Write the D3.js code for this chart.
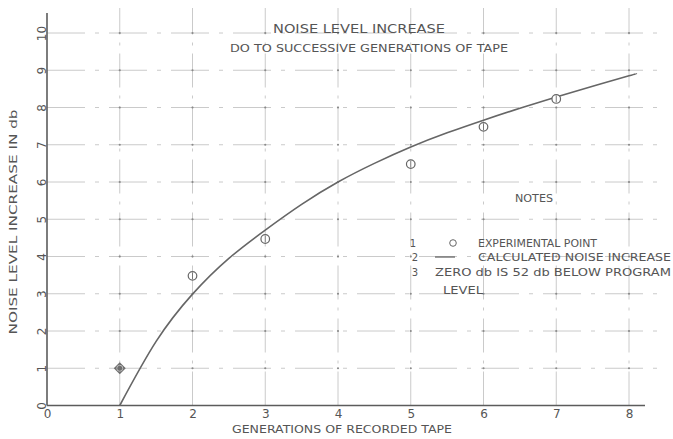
<!DOCTYPE html>
<html>
<head>
<meta charset="utf-8">
<script src="https://cdn.jsdelivr.net/npm/d3@7"></script>
<style>
  body { margin: 0; background: #fff; }
  svg { display: block; }
  text { font-family: "DejaVu Sans", "Liberation Sans", sans-serif; fill: #555; }
</style>
</head>
<body>
<svg id="chart" width="673" height="439"></svg>
<script>
// ---- data ----
const xTicks = [0, 1, 2, 3, 4, 5, 6, 7, 8];
const yTicks = [0, 1, 2, 3, 4, 5, 6, 7, 8, 9, 10];
const expGenerations = [1, 2, 3, 5, 6, 7];
const expNoise = [1.0, 3.48, 4.47, 6.48, 7.48, 8.23];
const calcGenerations = [1, 1.5, 2, 2.5, 3, 3.5, 4, 4.5, 5, 5.5, 6, 6.5, 7, 7.5, 8, 8.1];
const calcNoise = [0, 1.72, 2.99, 3.95, 4.71, 5.4, 6.0, 6.5, 6.94, 7.32, 7.66, 7.98, 8.28, 8.57, 8.85, 8.9];
const titleText = "NOISE LEVEL INCREASE";
const subtitleText = "DO TO SUCCESSIVE GENERATIONS OF TAPE";
const xTitle = "GENERATIONS OF RECORDED TAPE";
const yTitle = "NOISE LEVEL INCREASE IN db";
const notesTitle = "NOTES";
const notes = ["EXPERIMENTAL POINT", "CALCULATED NOISE INCREASE", "ZERO db IS 52 db BELOW PROGRAM", "LEVEL"];

const svg = d3.select("#chart");
const x = d3.scaleLinear().domain([0, 8]).range([47, 629]);
const y = d3.scaleLinear().domain([0, 10]).range([405.5, 33]);
const ink = "#5c5c5c";

// ---- grid ----
const grid = svg.append("g");
grid.selectAll("line.v").data(xTicks.filter(d => d > 0)).join("line")
  .attr("x1", d => x(d)).attr("x2", d => x(d))
  .attr("y1", y(0)).attr("y2", 8)
  .attr("stroke", "#cacaca").attr("stroke-width", 1)
  .attr("stroke-dasharray", "34,8,3,8");
grid.selectAll("line.h").data(yTicks.filter(d => d > 0)).join("line")
  .attr("x1", x(0)).attr("x2", 660)
  .attr("y1", d => y(d)).attr("y2", d => y(d))
  .attr("stroke", "#cacaca").attr("stroke-width", 1)
  .attr("stroke-dasharray", "38,10,4,10");
// intersection marks
const inter = [];
xTicks.filter(d => d > 0).forEach(a => yTicks.filter(d => d > 0).forEach(b => inter.push([a, b])));
grid.selectAll("circle.i").data(inter).join("circle")
  .attr("cx", d => x(d[0])).attr("cy", d => y(d[1]))
  .attr("r", 1.1).attr("fill", "#8a8a8a");

// ---- axes lines ----
svg.append("line").attr("x1", x(0)).attr("x2", x(0)).attr("y1", y(0)).attr("y2", 13)
  .attr("stroke", ink).attr("stroke-width", 1.6);
svg.append("line").attr("x1", x(0)).attr("x2", 645).attr("y1", y(0)).attr("y2", y(0))
  .attr("stroke", ink).attr("stroke-width", 1.6);

// ---- x axis labels ----
const xa = svg.append("g").attr("transform", `translate(0,${y(0)})`)
  .call(d3.axisBottom(x).tickValues(xTicks).tickSize(0).tickPadding(4).tickFormat(d3.format("d")));
xa.select(".domain").remove();
xa.selectAll("text").style("font-size", "12px").attr("fill", ink);

// ---- y axis labels (rotated) ----
const ya = svg.append("g").attr("transform", `translate(${x(0)},0)`)
  .call(d3.axisLeft(y).tickValues(yTicks).tickSize(0).tickFormat(d3.format("d")));
ya.select(".domain").remove();
ya.selectAll("text")
  .attr("transform", "rotate(-90)")
  .attr("x", 0).attr("y", -1.5).attr("dy", 0)
  .attr("text-anchor", "middle")
  .style("font-size", "12px").attr("fill", ink);

// ---- curve ----
const line = d3.line().x((d, i) => x(calcGenerations[i])).y(d => y(d)).curve(d3.curveNatural);
svg.append("path").datum(calcNoise).attr("d", line)
  .attr("fill", "none").attr("stroke", "#666").attr("stroke-width", 1.6);

// ---- experimental points ----
const pts = svg.append("g");
expNoise.forEach((v, i) => {
  const cx = x(expGenerations[i]), cy = y(v);
  const g = pts.append("g").attr("transform", `translate(${cx},${cy})`);
  if (expGenerations[i] === 1) {
    g.append("path").attr("d", "M0,-6L6,0L0,6L-6,0Z").attr("fill", "#6e6e6e");
    g.append("circle").attr("r", 3).attr("fill", "none").attr("stroke", "#ccc").attr("stroke-width", 0.8);
  } else {
    g.append("circle").attr("r", 4.3).attr("fill", "#fff").attr("stroke", "#666").attr("stroke-width", 1.2);
    g.append("line").attr("x1", 0).attr("x2", 0).attr("y1", -3.5).attr("y2", 3.5)
      .attr("stroke", "#777").attr("stroke-width", 1);
  }
});

// ---- texts ----
function label(txt, cx, cy, size, len, anchor) {
  const t = svg.append("text").text(txt)
    .attr("x", cx).attr("y", cy)
    .attr("dominant-baseline", "central")
    .attr("text-anchor", anchor || "middle")
    .style("font-size", size + "px").attr("fill", ink);
  if (len) t.attr("textLength", len).attr("lengthAdjust", "spacingAndGlyphs");
  return t;
}
label(titleText, 359, 28, 12.5, 172);
label(subtitleText, 369, 48, 11, 278);
label(xTitle, 342, 429, 11, 220);
svg.append("text").text(yTitle)
  .attr("transform", `translate(13,222) rotate(-90)`)
  .attr("dominant-baseline", "central").attr("text-anchor", "middle")
  .attr("textLength", 225).attr("lengthAdjust", "spacingAndGlyphs")
  .style("font-size", "10.5px").attr("fill", ink);

// notes
label(notesTitle, 534, 198, 10, 38);
label("1", 413, 243, 10, null);
svg.append("circle").attr("cx", 453).attr("cy", 243).attr("r", 3.3)
  .attr("fill", "none").attr("stroke", "#666").attr("stroke-width", 1);
label(notes[0], 478, 243, 10, 119, "start");
label("2", 415, 257, 10, null);
svg.append("line").attr("x1", 435).attr("x2", 455).attr("y1", 257).attr("y2", 257)
  .attr("stroke", "#666").attr("stroke-width", 1.3);
label(notes[1], 478, 257, 10, 193, "start");
label("3", 415, 272, 10, null);
label(notes[2], 435, 272, 10, 236, "start");
label(notes[3], 443, 290, 10, 40, "start");
</script>
</body>
</html>
